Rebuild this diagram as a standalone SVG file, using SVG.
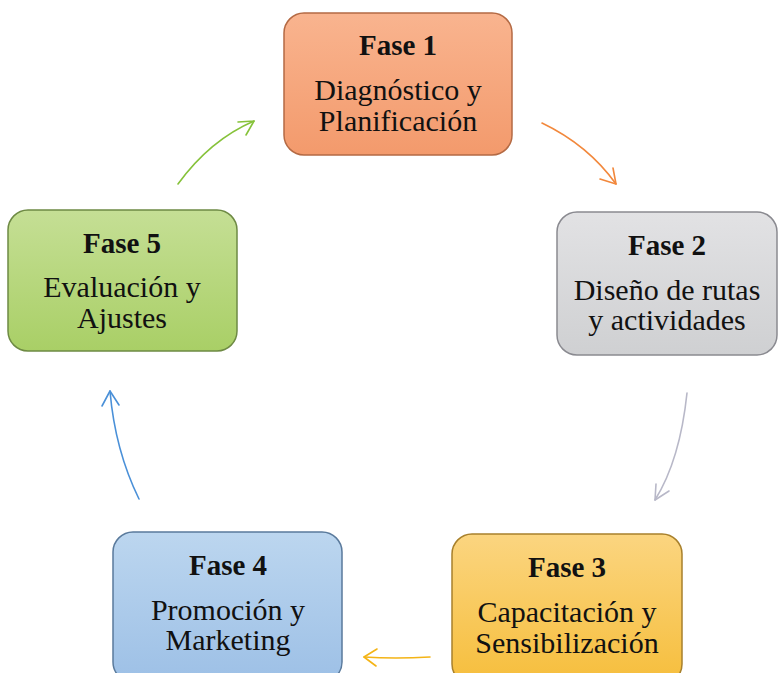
<svg xmlns="http://www.w3.org/2000/svg" width="779" height="673" viewBox="0 0 779 673">
<style>
.box{stroke-width:1.5}
.t{font-family:"Liberation Serif","Times New Roman",serif;text-anchor:middle;fill:#111}
.h{font-weight:bold;font-size:29px}
.b{font-size:30px}
.c{fill:none;stroke-width:1.6;stroke-linecap:round}
</style>
<defs>
<linearGradient id="g1" x1="0" y1="0" x2="0" y2="1"><stop offset="0" stop-color="#f9b48f"/><stop offset="1" stop-color="#f39a6c"/></linearGradient>
<linearGradient id="g2" x1="0" y1="0" x2="0" y2="1"><stop offset="0" stop-color="#e2e2e4"/><stop offset="1" stop-color="#cfd0d2"/></linearGradient>
<linearGradient id="g3" x1="0" y1="0" x2="0" y2="1"><stop offset="0" stop-color="#fbd580"/><stop offset="1" stop-color="#f6be3c"/></linearGradient>
<linearGradient id="g4" x1="0" y1="0" x2="0" y2="1"><stop offset="0" stop-color="#bcd6ef"/><stop offset="1" stop-color="#9dc0e6"/></linearGradient>
<linearGradient id="g5" x1="0" y1="0" x2="0" y2="1"><stop offset="0" stop-color="#c5df95"/><stop offset="1" stop-color="#a9cf66"/></linearGradient>
</defs>
<rect width="779" height="673" fill="#ffffff"/>
<g id="connectors">
<path class="c" stroke="#f2883c" d="M542,123 Q588,145 616,184"/>
<path class="c" stroke="#f2883c" d="M616,184 L600,179 M616,184 L613,168"/>
<path class="c" stroke="#b8b8c8" d="M687,393 Q680,460 655,500"/>
<path class="c" stroke="#b8b8c8" d="M655,500 L656,484 M655,500 L669,491"/>
<path class="c" stroke="#f4b416" d="M430,657 Q395,659 364,657"/>
<path class="c" stroke="#f4b416" d="M364,657 L377,649 M364,657 L376,666"/>
<path class="c" stroke="#4a90d8" d="M139,499 Q115,450 110,391"/>
<path class="c" stroke="#4a90d8" d="M110,391 L102,406 M110,391 L119,405"/>
<path class="c" stroke="#86c23a" d="M178,184 Q210,140 254,121"/>
<path class="c" stroke="#86c23a" d="M254,121 L238,122 M254,121 L246,135"/>
</g>
<g id="fase1">
<rect class="box" x="284" y="13" width="228" height="142" rx="20" fill="url(#g1)" stroke="#b46a44"/>
<text class="t h" x="398" y="55">Fase 1</text>
<text class="t b" x="398" y="100">Diagnóstico y</text>
<text class="t b" x="398" y="131">Planificación</text>
</g>
<g id="fase2">
<rect class="box" x="557" y="212" width="220" height="143" rx="20" fill="url(#g2)" stroke="#8a8a90"/>
<text class="t h" x="667" y="255">Fase 2</text>
<text class="t b" x="667" y="300">Diseño de rutas</text>
<text class="t b" x="667" y="330">y actividades</text>
</g>
<g id="fase3">
<rect class="box" x="452" y="534" width="230" height="150" rx="20" fill="url(#g3)" stroke="#a8802c"/>
<text class="t h" x="567" y="577">Fase 3</text>
<text class="t b" x="567" y="622">Capacitación y</text>
<text class="t b" x="567" y="653">Sensibilización</text>
</g>
<g id="fase4">
<rect class="box" x="113" y="532" width="229" height="150" rx="20" fill="url(#g4)" stroke="#5a7a9c"/>
<text class="t h" x="228" y="575">Fase 4</text>
<text class="t b" x="228" y="620">Promoción y</text>
<text class="t b" x="228" y="650">Marketing</text>
</g>
<g id="fase5">
<rect class="box" x="8" y="210" width="229" height="141" rx="20" fill="url(#g5)" stroke="#6e8a44"/>
<text class="t h" x="122" y="253">Fase 5</text>
<text class="t b" x="122" y="297">Evaluación y</text>
<text class="t b" x="122" y="328">Ajustes</text>
</g>
</svg>
